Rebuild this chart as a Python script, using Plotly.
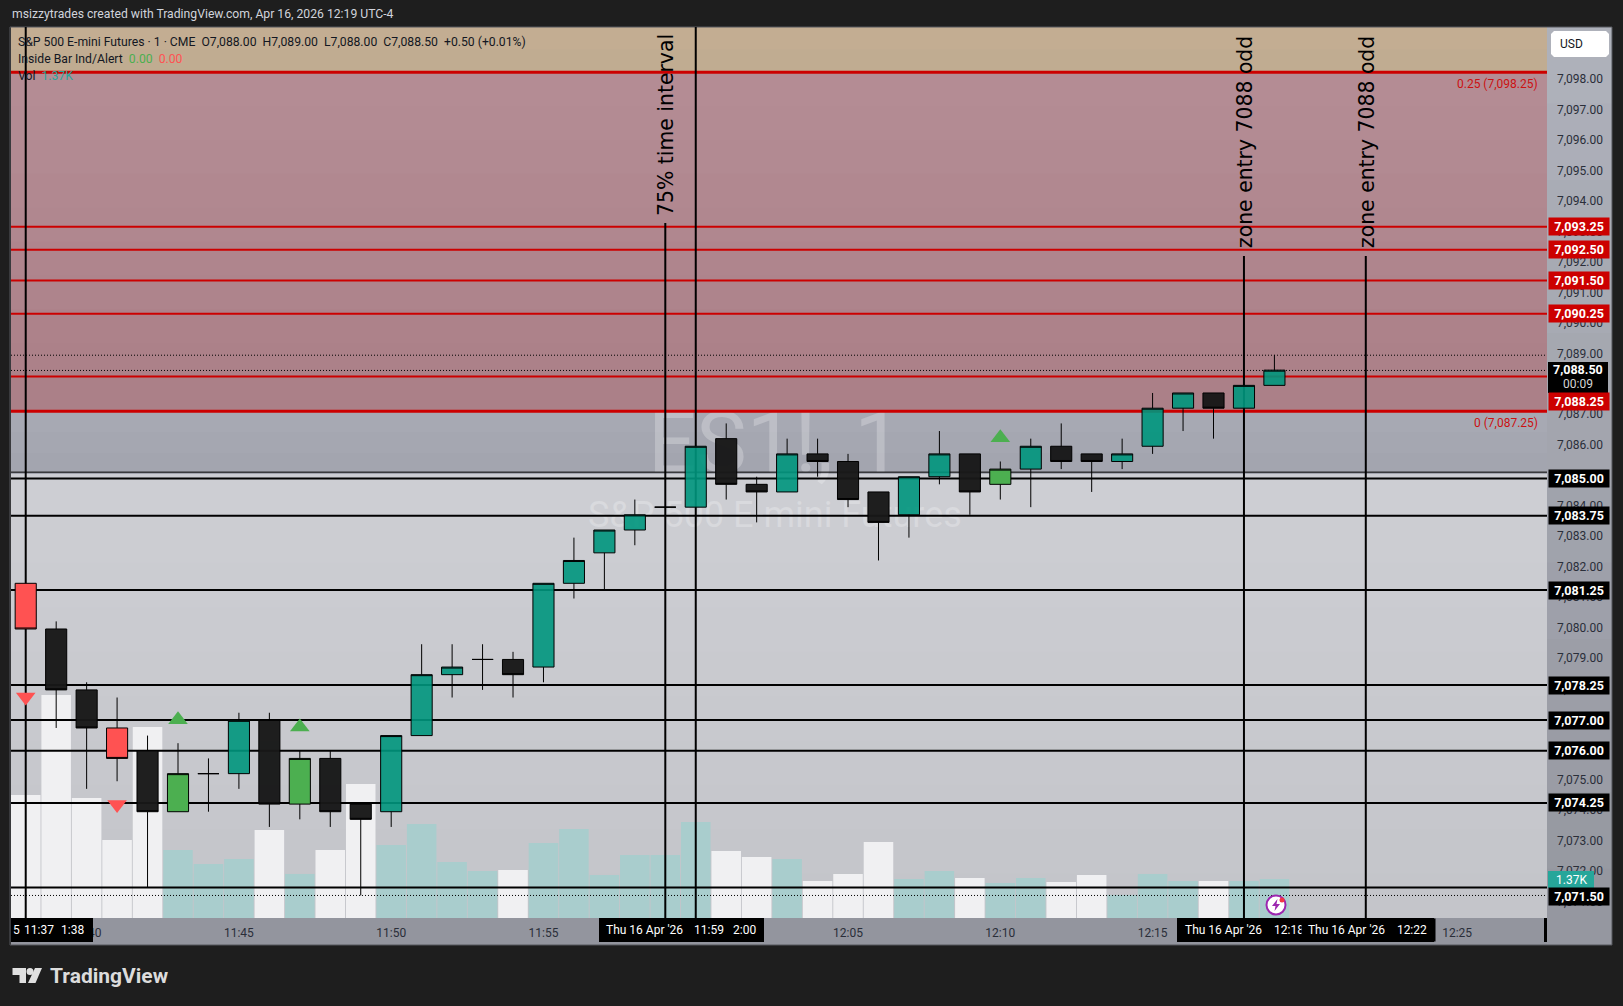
import pandas as pd
import plotly.graph_objects as go

# candles, one per minute from 11:38
times = pd.date_range("2026-04-16 11:38", periods=42, freq="min").strftime("%Y-%m-%d %H:%M").tolist()
opens = [7081.5, 7080, 7078, 7076.75, 7076, 7074, 7075.25, 7075.25, 7077, 7074.25, 7075.75, 7074.25, 7074, 7076.5,
         7078.5, 7079, 7079, 7078.75, 7081.5, 7082.5, 7083.25, 7084, 7084, 7086.25, 7084.75, 7084.5, 7085.75, 7085.5,
         7084.5, 7083.75, 7085, 7085.75, 7084.75, 7085.25, 7086, 7085.75, 7085.5, 7086, 7087.25, 7087.75, 7087.25, 7088]
highs = [7081.5, 7080.25, 7078.25, 7077.75, 7076.5, 7076.25, 7075.75, 7077.25, 7077.25, 7076, 7076, 7074.25, 7076.5, 7079.5,
         7079.5, 7079.5, 7079.25, 7081.5, 7083, 7083.25, 7084.25, 7084, 7086, 7086.75, 7085, 7086.25, 7086.25, 7085.75,
         7084.5, 7085, 7086.5, 7085.75, 7085.5, 7086.25, 7086.75, 7085.75, 7086.25, 7087.75, 7087.75, 7087.75, 7088, 7089]
lows = [7080, 7076.75, 7074.75, 7075, 7071.5, 7074, 7074, 7074.75, 7073.5, 7073.75, 7073.5, 7071.25, 7073.5, 7076.5,
        7077.75, 7078, 7077.75, 7078.25, 7081, 7081.25, 7082.75, 7084, 7084, 7084.25, 7083.5, 7084.5, 7085, 7084,
        7082.25, 7083, 7084.75, 7083.75, 7084.25, 7084, 7085.25, 7084.5, 7085.25, 7085.75, 7086.5, 7086.25, 7087.25, 7088]
closes = [7080, 7078, 7076.75, 7075.75, 7074, 7075.25, 7075.25, 7077, 7074.25, 7075.75, 7074, 7073.75, 7076.5, 7078.5,
          7078.75, 7079, 7078.5, 7081.5, 7082.25, 7083.25, 7083.75, 7084, 7086, 7084.75, 7084.5, 7085.75, 7085.5, 7084.25,
          7083.5, 7085, 7085.75, 7084.5, 7085.25, 7086, 7085.5, 7085.5, 7085.75, 7087.25, 7087.75, 7087.25, 7088, 7088.5]
kinds = ["red", "blk", "blk", "red", "blk", "grn", "blk", "tea", "blk", "grn", "blk", "blk", "tea", "tea",
         "tea", "blk", "blk", "tea", "tea", "tea", "tea", "blk", "tea", "blk", "blk", "tea", "blk", "blk",
         "blk", "tea", "tea", "blk", "grn", "tea", "blk", "blk", "tea", "tea", "tea", "blk", "tea", "tea"]

volumes = [4320, 7830, 4215, 2740, 6710, 2390, 1900, 2070, 3090, 1545, 2390, 4710, 2565, 3300,
           1970, 1650, 1685, 2635, 3125, 1510, 2215, 2215, 3370, 2355, 2145, 2070, 1300, 1545,
           2670, 1370, 1650, 1405, 1230, 1405, 1265, 1510, 810, 1545, 1300, 1300, 1300, 1370]
vol_kinds = ["w", "w", "w", "w", "w", "t", "t", "t", "w", "t", "w", "w", "t", "t",
             "t", "t", "w", "t", "t", "t", "t", "t", "t", "w", "w", "t", "w", "w",
             "w", "t", "t", "w", "t", "t", "w", "w", "t", "t", "t", "w", "t", "t"]

# horizontal levels, as drawn on the chart, and what their price tags say
black_levels = [7084.89, 7083.67, 7081.23, 7078.11, 7076.96, 7075.95, 7074.24, 7071.46]
black_labels = ["7,085.00", "7,083.75", "7,081.25", "7,078.25", "7,077.00", "7,076.00", "7,074.25", "7,071.50"]
black_shifts = [0, 0, 0, 0, 0, 0, 0, -9]
red_levels = [7093.16, 7092.40, 7091.39, 7090.30]
red_labels = ["7,093.25", "7,092.50", "7,091.50", "7,090.25"]
zone_levels = [7098.23, 7087.10]
entry_level = 7088.24
thin_level = 7085.10
dotted_levels = [7088.94, 7088.44, 7071.20]

# vertical lines
vline_times = ["2026-04-16 11:38", "2026-04-16 11:59", "2026-04-16 12:00", "2026-04-16 12:18", "2026-04-16 12:22"]
vline_tops = [7099.8, 7093.28, 7099.8, 7092.2, 7092.2]

sell_times = ["2026-04-16 11:38", "2026-04-16 11:41"]
sell_prices = [7077.77, 7074.24]
buy_times = ["2026-04-16 11:43", "2026-04-16 11:47", "2026-04-16 12:10"]
buy_prices = [7077.02, 7076.78, 7086.28]

price_ticks = list(range(7071, 7099))
time_ticks = pd.date_range("2026-04-16 11:40", "2026-04-16 12:25", freq="5min").strftime("%Y-%m-%d %H:%M").tolist()
time_labels = ["11:40", "11:45", "11:50", "11:55", "12:00", "12:05", "12:10", "12:15", "12:20", "12:25"]

FONT = "Roboto, sans-serif"
PLOT_L, PLOT_R, PLOT_T, PLOT_B = 11, 1547, 27, 918
PRICE_RANGE = [7070.46, 7099.717]
CANDLE_RANGE = [7070.51, 7099.767]


def fx(px):
    return (px - PLOT_L) / (PLOT_R - PLOT_L)


def fy(py):
    return (PLOT_B - py) / (PLOT_B - PLOT_T)


def hex_mix(c0, c1, k):
    a = [int(c0[i:i + 2], 16) for i in (1, 3, 5)]
    b = [int(c1[i:i + 2], 16) for i in (1, 3, 5)]
    return "#%02x%02x%02x" % tuple(round(a[i] + (b[i] - a[i]) * k) for i in range(3))


shapes = []


def rect(x0, y0, x1, y1, color, layer="below", line=None):
    shapes.append(dict(type="rect", xref="paper", yref="paper", x0=fx(x0), x1=fx(x1), y0=fy(y0), y1=fy(y1),
                       fillcolor=color, layer=layer, line=line or dict(width=0)))


def band(x0, y0, x1, y1, c0, c1, steps):
    # steps overlap by a pixel so no seam shows between them
    for i in range(steps):
        top = y0 + (y1 - y0) * i / steps
        bottom = y0 + (y1 - y0) * (i + 1) / steps
        rect(x0, top, x1, min(bottom + 1, y1), hex_mix(c0, c1, (i + .5) / steps))


def poly(points, color):
    path = "M" + " L".join(f"{fx(x):.5f},{fy(y):.5f}" for x, y in points) + " Z"
    shapes.append(dict(type="path", xref="paper", yref="paper", path=path, fillcolor=color, line=dict(width=0),
                       layer="above"))


def circle(cx, cy, r, fill, line_color=None, line_width=0):
    shapes.append(dict(type="circle", xref="paper", yref="paper", x0=fx(cx - r), x1=fx(cx + r), y0=fy(cy + r),
                       y1=fy(cy - r), fillcolor=fill, layer="above",
                       line=dict(width=line_width, color=line_color or fill)))


# backgrounds of the plot and of the axis strips
band(PLOT_L, 27, PLOT_R, 72, "#c4ae93", "#bfab90", 2)
band(PLOT_L, 72, PLOT_R, 411, "#b48d95", "#ab7f87", 10)
band(PLOT_L, 411, PLOT_R, 474, "#a8aab4", "#a2a4ae", 3)
band(PLOT_L, 474, PLOT_R, 918, "#cecfd4", "#c3c4c9", 10)
band(PLOT_R, 27, 1612, 945, "#afb2bb", "#94969f", 12)
rect(PLOT_L, 918, PLOT_R, 945, "#93959e")
rect(10, 27, 1612, 945, "rgba(0,0,0,0)", line=dict(width=1, color="#55575c"))

# black boxes under the time axis
rect(PLOT_L, 918, 93, 942, "#000000", "above")
rect(599, 918, 764, 942, "#000000", "above")
rect(1177, 918, 1434, 942, "#000000", "above")
rect(1544, 918, 1547, 942, "#000000", "above")

# TradingView logo
poly([(12.5, 968), (26, 968), (26, 983), (19.5, 983), (19.5, 975), (12.5, 975)], "#e0e0e0")
circle(30, 971.5, 3.5, "#e0e0e0")
poly([(35, 968), (42, 968), (35.5, 983), (28, 983)], "#e0e0e0")

# alert icon on the last bars
circle(1276, 905, 9.5, "#ffffff", "#9c27b0", 2)
poly([(1277.5, 899), (1272, 906), (1275.5, 906), (1274.5, 911), (1280, 904), (1276.5, 904)], "#9c27b0")
circle(1282, 900, 2.5, "#f23645")

annotations = []


def note(text, px, py, size=12, color="#131722", xanchor="left", family=FONT, **kw):
    annotations.append(dict(text=text, xref="paper", yref="paper", x=fx(px), y=fy(py), xanchor=xanchor,
                            yanchor="middle", showarrow=False, font=dict(family=family, size=size, color=color), **kw))


def price_tag(text, level, color, shift=0):
    annotations.append(dict(text=f"<b>{text}</b>", xref="paper", yref="y2", x=fx(1548), y=level, xanchor="left",
                            yanchor="middle", showarrow=False, width=60, height=17, bgcolor=color, borderpad=0,
                            yshift=shift, font=dict(family=FONT, size=12.5, color="#ffffff")))


note("msizzytrades created with TradingView.com, Apr 16, 2026 12:19 UTC-4", 9.5, 14.5, 12.2, "#d1d4dc")
note("S&P 500 E-mini Futures · 1 · CME &nbsp;O7,088.00 &nbsp;H7,089.00 &nbsp;L7,088.00 &nbsp;C7,088.50 &nbsp;+0.50 (+0.01%)",
     15.5, 42, 12.2)
note("Inside Bar Ind/Alert &nbsp;<span style='color:#4caf50'>0.00</span> &nbsp;<span style='color:#ff5252'>0.00</span>",
     15.5, 59, 12.2)
note("Vol &nbsp;<span style='color:#26a69a'>1.37K</span>", 15.5, 76, 12.2)

DEJAVU = "DejaVu Sans"
for text, px, py0, size in [("75% time interval", 666, 125, 20.4), ("zone entry 7088 odd", 1245, 142, 20.4),
                            ("zone entry 7088 odd", 1367, 142, 20.4)]:
    note(text, px, py0, size, "#000000", "center", family=DEJAVU, textangle=-90)

note("0.25 (7,098.25)", 1539.5, 83.7, 12, "#cc1111", "right")
note("0 (7,087.25)", 1539.5, 422.7, 12, "#cc1111", "right")

rect(1548, 871, 1594, 888, "#26a69a", "above")
note("1.37K", 1571, 879.5, 12, "#ffffff", "center")

for level, label, shift in zip(black_levels, black_labels, black_shifts):
    price_tag(label, level, "#000000", shift)
for level, label in zip(red_levels, red_labels):
    price_tag(label, level, "#cc0000")
price_tag("7,088.25", entry_level, "#cc0000", shift=-25)

rect(1548, 362, 1608, 393, "#000000", "above")
note("<b>7,088.50</b>", 1578, 369.7, 12.5, "#ffffff", "center")
note("00:09", 1578, 383.7, 12, "#d6d6d6", "center")

# USD button, corners cut a little
poly([(1554, 31), (1606, 31), (1609, 34), (1609, 54), (1606, 57), (1554, 57), (1551, 54), (1551, 34)], "#ffffff")
note("USD", 1558, 44, 12, "#131722")

note("5", 10.5, 930, 12, "#ffffff")
note("11:37", 38.5, 930, 12, "#ffffff", "center")
note("1:38", 72.5, 930, 12, "#ffffff", "center")
note("Thu 16 Apr '26", 644.5, 930, 12, "#ffffff", "center")
note("11:59", 708.5, 930, 12, "#ffffff", "center")
note("2:00", 744, 930, 12, "#ffffff", "center")
note("Thu 16 Apr '26", 1223.5, 930, 12, "#ffffff", "center")
note("12:18", 1289, 930, 12, "#ffffff", "center")
note("&nbsp;&nbsp;Thu 16 Apr '26 &nbsp; &nbsp;12:22", 1301, 930, 12, "#ffffff", bgcolor="#000000", width=133, height=22,
     borderpad=0, align="left")

note("<b>TradingView</b>", 48, 976, 21, "#dcdcdc")

fig = go.Figure()

# volume at the bottom of the pile
fig.add_trace(go.Bar(x=times, y=volumes, yaxis="y", hoverinfo="skip", showlegend=False,
                     marker=dict(color=["#f0f0f2" if k == "w" else "#a9cdcd" for k in vol_kinds], line=dict(width=0))))

# watermark and lines on the price axis, below the candles
fig.add_trace(go.Scatter(x=["2026-04-16 12:02:36"], y=[7085.8], yaxis="y2", mode="text",
                         text=["ES1!, 1"], hoverinfo="skip", showlegend=False,
                         textfont=dict(family=FONT, size=85, color="rgba(255,255,255,0.25)")))
fig.add_trace(go.Scatter(x=["2026-04-16 12:02:36"], y=[7083.6], yaxis="y2", mode="text",
                         text=["S&P 500 E-mini Futures"], hoverinfo="skip", showlegend=False,
                         textfont=dict(family=FONT, size=36, color="rgba(255,255,255,0.25)")))

x_range = ["2026-04-16 11:37:31", "2026-04-16 12:27:57"]


def hline(level, color, width, dash="solid"):
    fig.add_trace(go.Scatter(x=x_range, y=[level, level], yaxis="y2", mode="lines", hoverinfo="skip", showlegend=False,
                             line=dict(color=color, width=width, dash=dash)))


for level in dotted_levels:
    hline(level, "#000000", 1, "1px,2px")
hline(thin_level, "#000000", 1)
for level in black_levels:
    hline(level, "#000000", 2)
for level in red_levels + [entry_level]:
    hline(level, "#cc0000", 2)
for level in zone_levels:
    hline(level, "#cc0000", 3)
for t, top in zip(vline_times, vline_tops):
    fig.add_trace(go.Scatter(x=[t, t], y=[PRICE_RANGE[0], top], yaxis="y2", mode="lines", hoverinfo="skip",
                             showlegend=False, line=dict(color="#000000", width=2)))

# candles on their own overlay so they sit over the lines
candle_fill = {"tea": "rgba(0,150,125,0.9)", "blk": "rgba(24,24,24,0.97)", "red": "#ff5252", "grn": "#4caf50"}
for kind, fill in candle_fill.items():
    idx = [i for i, k in enumerate(kinds) if k == kind]
    style = dict(line=dict(color="#000000", width=1), fillcolor=fill)
    fig.add_trace(go.Candlestick(x=[times[i] for i in idx], open=[opens[i] for i in idx], high=[highs[i] for i in idx],
                                 low=[lows[i] for i in idx], close=[closes[i] for i in idx], yaxis="y3",
                                 increasing=style, decreasing=style, whiskerwidth=0, hoverinfo="skip", showlegend=False))

fig.add_trace(go.Scatter(x=sell_times, y=sell_prices, yaxis="y3", mode="markers", hoverinfo="skip", showlegend=False,
                         marker=dict(symbol="triangle-down", size=17, color="#ff5252", line=dict(width=0))))
fig.add_trace(go.Scatter(x=buy_times, y=buy_prices, yaxis="y3", mode="markers", hoverinfo="skip", showlegend=False,
                         marker=dict(symbol="triangle-up", size=17, color="#4caf50", line=dict(width=0))))

fig.update_layout(
    width=1623, height=1006, autosize=False,
    margin=dict(l=PLOT_L, r=1623 - PLOT_R, t=PLOT_T, b=1006 - PLOT_B, pad=0),
    paper_bgcolor="#1e1e1e", plot_bgcolor="rgba(0,0,0,0)",
    bargap=0.03, boxgap=0.01, showlegend=False, hovermode=False,
    font=dict(family=FONT, size=12, color="#2a2e39"),
    shapes=shapes, annotations=annotations,
    xaxis=dict(type="date", range=x_range, rangeslider=dict(visible=False), showgrid=False, zeroline=False,
               tickmode="array", tickvals=time_ticks, ticktext=time_labels, ticks="", showline=False,
               ticklabelstandoff=6, tickfont=dict(family=FONT, size=12, color="#2a2e39")),
    yaxis=dict(range=[0, 31300], visible=False, fixedrange=True),
    yaxis2=dict(overlaying="y", side="right", range=PRICE_RANGE, tickmode="array", tickvals=price_ticks,
                tickformat=",.2f", showgrid=False, zeroline=False, showline=False, ticks="",
                ticklabelstandoff=9, tickfont=dict(family=FONT, size=12, color="#2a2e39")),
    yaxis3=dict(overlaying="y", side="right", range=CANDLE_RANGE, visible=False),
)

fig.write_html("out.html", config={"displayModeBar": False},
               post_script="document.body.style.margin='0';document.body.style.overflow='hidden';")
